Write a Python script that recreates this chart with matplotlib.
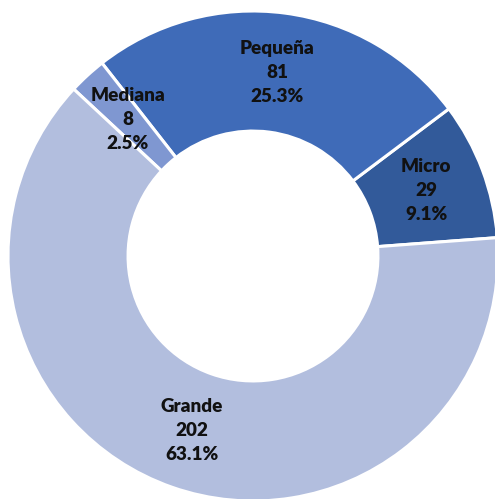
import numpy as np
import matplotlib
matplotlib.use("Agg")
import matplotlib.pyplot as plt

categories = ["Micro", "Pequeña", "Mediana", "Grande"]
values = [29, 81, 8, 202]
colors = ["#325A9A", "#3F6BB8", "#7F97D1", "#B2BEDE"]

W, H = 495, 499
cx, cy, R = 253, 256, 245

fig = plt.figure(figsize=(W / 100, H / 100), dpi=100)
ax = fig.add_axes([0, 0, 1, 1])
wedges, _ = ax.pie(values, colors=colors, startangle=4.3, counterclock=True,
                   radius=1.0, wedgeprops=dict(width=0.49, edgecolor="white", linewidth=2.2))
ax.set_xlim(-cx / R, (W - cx) / R)
ax.set_ylim(-(H - cy) / R, cy / R)
ax.set_aspect("equal")
ax.axis("off")

total = sum(values)
for w, cat, v in zip(wedges, categories, values):
    ang = np.deg2rad((w.theta1 + w.theta2) / 2)
    r = 0.755
    ax.text(r * np.cos(ang), r * np.sin(ang), f"{cat}\n{v}\n{v / total * 100:.1f}%",
            ha="center", va="center", fontsize=13.6, fontweight="heavy",
            family=["Lato", "DejaVu Sans"], linespacing=1.5, color="#111111")

fig.savefig("out.png", dpi=100)
